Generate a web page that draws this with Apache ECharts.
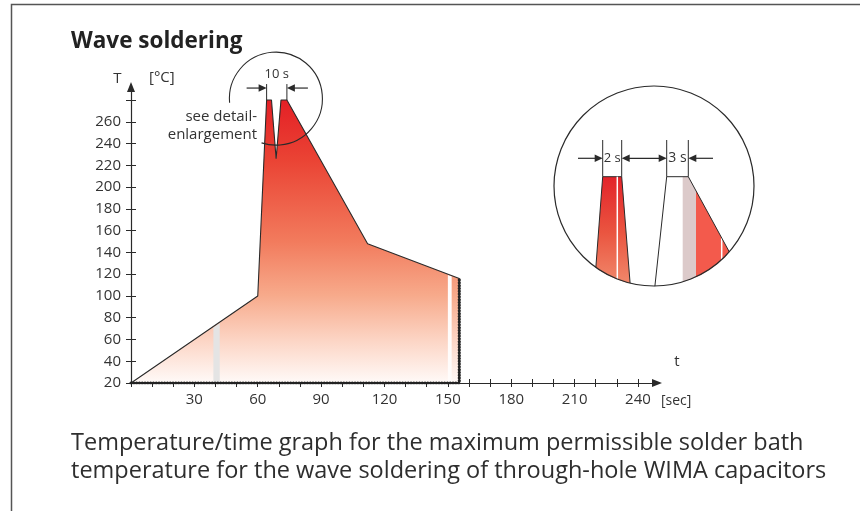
<!DOCTYPE html>
<html><head><meta charset="utf-8">
<script src="https://cdn.jsdelivr.net/npm/echarts@6/dist/echarts.min.js"></script>
<style>html,body{margin:0;padding:0;background:#fff}#c{width:860px;height:511px}</style>
</head><body><div id="c"></div>
<script>
// ---------------- data ----------------
const profileTime = [0, 60, 64.2, 66.5, 68.7, 71, 73.8, 112, 155.4, 155.4];
const profileTemp = [20, 100, 280, 280, 226, 280, 280, 148, 116, 20];
const bathTime = [0, 155.4, 155.4];
const bathTemp = [20, 20, 116];
const xTickValues = [0,10,20,30,40,50,60,70,80,90,100,110,120,130,140,150,160,170,180,190,200,210,220,230,240];
const xLabelValues = [30,60,90,120,150,180,210,240];
const yTickValues = [20,40,60,80,100,120,140,160,180,200,220,240,260,280];
const yLabelValues = [20,40,60,80,100,120,140,160,180,200,220,240,260];
const stripeLeft = [39, 150];
const stripeRight = [42, 151.8];
const stripeTopLeft = [71, 119.3];
const stripeTopRight = [75, 118];
const spanLabel = '10 s';
const peakTemp = 280;
const spanStart = profileTime[2];
const spanEnd = profileTime[6];
const detailCircleCenter = [68.6, 281.3];

// detail enlargement (units of the enlargement frame, 0..200)
const detailLeftPeak = [[48.7,90.7],[67.7,90.7],[77.5,215],[39.3,215]];
const detailLeftGlint = [[63.3,90.7],[63.3,215]];
const detailRightOutline = [[100.8,201],[112.7,90.7],[134.3,90.7],[183,180]];
const detailHalftone = [[128.7,90.7],[134.3,90.7],[142,104.8],[142,205],[128.7,205]];
const detailRightFill = [[142,104.8],[183,180],[183,205],[142,205]];
const detailRightGlint = [[167.7,151.9],[167.7,205]];
const detailDimX = [48.7, 67.7, 112.7, 134.3];
const detailDimLabels = ['2 s', '3 s'];
const detailFrame = [100, 100, 100]; // cx, cy, r

// ---------------- styles ----------------
const FONT = "'Open Sans', Lato, sans-serif";
const INK = '#2a2a2a';
const TXT = '#333';

const chart = echarts.init(document.getElementById('c'), null, {renderer: 'canvas'});

function arrowHead(tip, dir, len, half, color) {
  return {type: 'polygon', shape: {points: [[tip[0], tip[1]], [tip[0] - dir * len, tip[1] - half], [tip[0] - dir * len, tip[1] + half]]}, style: {fill: color}};
}
function vline(x, y0, y1, w) {
  return {type: 'line', shape: {x1: x, y1: y0, x2: x, y2: y1}, style: {stroke: INK, lineWidth: w || 1}};
}

const areaGradient = {type: 'linear', x: 0, y: 0, x2: 0, y2: 1, colorStops: [
  {offset: 0, color: '#e42026'},
  {offset: 0.21, color: '#ea4334'},
  {offset: 0.5, color: '#f27b5d'},
  {offset: 0.69, color: '#f7aa8b'},
  {offset: 0.85, color: '#fcd5c5'},
  {offset: 1, color: '#fffaf8'}
]};

const option = {
  animation: false,
  backgroundColor: '#fff',
  grid: [
    {left: 131, top: 87, width: 526, height: 296},
    {left: 554, top: 86, width: 200, height: 200}
  ],
  xAxis: [
    {type: 'value', gridIndex: 0, min: 0, max: 249, position: 'bottom',
     axisLine: {show: true, onZero: false, symbol: ['none', 'triangle'], symbolSize: [8, 10], lineStyle: {color: INK, width: 1.2}},
     axisTick: {show: true, customValues: xTickValues, length: 4, lineStyle: {color: INK, width: 1}},
     axisLabel: {customValues: xLabelValues, margin: 9, fontSize: 15, color: TXT, fontFamily: FONT},
     splitLine: {show: false}},
    {type: 'value', gridIndex: 0, min: 0, max: 249, position: 'bottom',
     axisLine: {show: false}, axisTick: {show: true, inside: true, customValues: xTickValues, length: 4, lineStyle: {color: INK, width: 1}},
     axisLabel: {show: false}, splitLine: {show: false}},
    {type: 'value', gridIndex: 1, min: 0, max: 200, show: false}
  ],
  yAxis: [
    {type: 'value', gridIndex: 0, min: 20, max: 292, position: 'left',
     axisLine: {show: true, onZero: false, symbol: ['none', 'triangle'], symbolSize: [8, 10], lineStyle: {color: INK, width: 1.2}},
     axisTick: {show: true, customValues: yTickValues, length: 5, lineStyle: {color: INK, width: 1}},
     axisLabel: {customValues: yLabelValues, margin: 10, fontSize: 15, color: TXT, fontFamily: FONT},
     splitLine: {show: false}},
    {type: 'value', gridIndex: 0, min: 20, max: 292, position: 'left',
     axisLine: {show: false}, axisTick: {show: true, inside: true, customValues: yTickValues, length: 5, lineStyle: {color: INK, width: 1}},
     axisLabel: {show: false}, splitLine: {show: false}},
    {type: 'value', gridIndex: 1, min: 0, max: 200, inverse: true, show: false}
  ],
  series: [
    {type: 'line', xAxisIndex: 0, yAxisIndex: 0, symbol: 'none', silent: true,
     data: profileTime.map((t, i) => [t, profileTemp[i]]),
     lineStyle: {width: 0}, areaStyle: {color: areaGradient, opacity: 1}, z: 2},
    {type: 'custom', xAxisIndex: 0, yAxisIndex: 0, silent: true, clip: false, z: 3,
     data: stripeLeft.map((x, i) => [x, stripeRight[i], stripeTopLeft[i], stripeTopRight[i]]),
     renderItem: function (params, api) {
       const i = params.dataIndex;
       const x0 = api.value(0), x1 = api.value(1);
       const pts = [api.coord([x0, 20]), api.coord([x0, api.value(2)]), api.coord([x1, api.value(3)]), api.coord([x1, 20])];
       return {type: 'polygon', shape: {points: pts}, style: {fill: i === 0 ? '#e4e4e4' : '#fffcfb'}};
     }},
    {type: 'line', xAxisIndex: 0, yAxisIndex: 0, symbol: 'none', silent: true, z: 4,
     data: profileTime.slice(0, 9).map((t, i) => [t, profileTemp[i]]),
     lineStyle: {color: INK, width: 1.1}},
    {type: 'line', xAxisIndex: 0, yAxisIndex: 0, symbol: 'none', silent: true, z: 5,
     data: bathTime.map((t, i) => [t, bathTemp[i]]),
     lineStyle: {color: '#333', width: 1.6}},
    {type: 'line', xAxisIndex: 0, yAxisIndex: 0, symbol: 'none', silent: true, z: 6,
     data: bathTime.map((t, i) => [t, bathTemp[i]]),
     lineStyle: {color: '#222', width: 3.2, type: [0.1, 2.7], cap: 'round'}},
    // 10 s dimension + detail circle
    {type: 'custom', xAxisIndex: 0, yAxisIndex: 0, silent: true, clip: false, z: 7,
     data: [detailCircleCenter],
     renderItem: function (params, api) {
       const pL = api.coord([spanStart, peakTemp]);
       const pR = api.coord([spanEnd, peakTemp]);
       const c = api.coord([api.value(0), api.value(1)]);
       const ay = pL[1] - 12;
       const deg = Math.PI / 180;
       return {type: 'group', children: [
         vline(pL[0], pL[1], pL[1] - 16), vline(pR[0], pR[1], pR[1] - 16),
         {type: 'line', shape: {x1: pL[0] - 20, y1: ay, x2: pL[0] - 6, y2: ay}, style: {stroke: INK, lineWidth: 1.2}},
         {type: 'line', shape: {x1: pR[0] + 6, y1: ay, x2: pR[0] + 21, y2: ay}, style: {stroke: INK, lineWidth: 1.2}},
         arrowHead([pL[0], ay], 1, 8, 3.8, INK), arrowHead([pR[0], ay], -1, 8, 3.8, INK),
         {type: 'text', x: (pL[0] + pR[0]) / 2, y: pL[1] - 26, style: {text: spanLabel, fontSize: 13, fontFamily: FONT, fill: TXT, align: 'center', verticalAlign: 'middle'}},
         {type: 'arc', shape: {cx: c[0], cy: c[1], r: 46.5, startAngle: 175 * deg, endAngle: 468 * deg, clockwise: true}, style: {stroke: INK, lineWidth: 1.1, fill: null}}
       ]};
     }},
    // detail enlargement
    {type: 'custom', xAxisIndex: 2, yAxisIndex: 2, silent: true, clip: false, z: 8,
     data: [detailFrame],
     renderItem: function (params, api) {
       const P = (arr) => arr.map(p => api.coord(p));
       const c = api.coord([api.value(0), api.value(1)]);
       const r = api.size([api.value(2), 0])[0];
       const top = api.coord([0, detailLeftPeak[0][1]])[1];
       const dimTop = api.coord([0, 54])[1];
       const ay = api.coord([0, 72.3])[1];
       const dx = detailDimX.map(x => api.coord([x, 0])[0]);
       const leftTail = api.coord([24, 0])[0], rightTail = api.coord([159, 0])[0];
       const kids = [
         {type: 'polygon', shape: {points: P(detailLeftPeak)}, style: {fill: {type: 'linear', x: 0, y: 0, x2: 0, y2: 1, colorStops: [{offset: 0, color: '#e3232a'}, {offset: 0.45, color: '#ea5540'}, {offset: 1, color: '#f39a7a'}]}, stroke: INK, lineWidth: 1}},
         {type: 'polyline', shape: {points: P(detailLeftGlint)}, style: {stroke: '#fff', lineWidth: 1.5}},
         {type: 'polygon', shape: {points: P(detailHalftone)}, style: {fill: '#dccaca'}},
         {type: 'polygon', shape: {points: P(detailRightFill)}, style: {fill: '#f35a4c'}},
         {type: 'polyline', shape: {points: P(detailRightGlint)}, style: {stroke: '#fff', lineWidth: 1.5}},
         {type: 'polyline', shape: {points: P(detailRightOutline)}, style: {stroke: INK, lineWidth: 1, fill: null}},
         {type: 'ring', shape: {cx: c[0], cy: c[1], r0: r + 0.3, r: r + 60}, style: {fill: '#fff'}},
         {type: 'circle', shape: {cx: c[0], cy: c[1], r: r}, style: {stroke: INK, lineWidth: 1.2, fill: null}}
       ];
       dx.forEach(x => kids.push(vline(x, dimTop, top)));
       kids.push({type: 'line', shape: {x1: leftTail, y1: ay, x2: dx[0] - 6, y2: ay}, style: {stroke: INK, lineWidth: 1.2}});
       kids.push(arrowHead([dx[0], ay], 1, 8, 3.8, INK));
       kids.push({type: 'line', shape: {x1: dx[1] + 6, y1: ay, x2: dx[2] - 6, y2: ay}, style: {stroke: INK, lineWidth: 1.2}});
       kids.push(arrowHead([dx[1], ay], -1, 8, 3.8, INK));
       kids.push(arrowHead([dx[2], ay], 1, 8, 3.8, INK));
       kids.push({type: 'line', shape: {x1: dx[3] + 6, y1: ay, x2: rightTail, y2: ay}, style: {stroke: INK, lineWidth: 1.2}});
       kids.push(arrowHead([dx[3], ay], -1, 8, 3.8, INK));
       kids.push({type: 'text', x: (dx[0] + dx[1]) / 2, y: ay, style: {text: detailDimLabels[0], fontSize: 13, fontFamily: FONT, fill: TXT, align: 'center', verticalAlign: 'middle'}});
       kids.push({type: 'text', x: (dx[2] + dx[3]) / 2, y: ay, style: {text: detailDimLabels[1], fontSize: 14, fontFamily: FONT, fill: TXT, align: 'center', verticalAlign: 'middle'}});
       return {type: 'group', children: kids};
     }}
  ],
  graphic: [
    {type: 'polyline', shape: {points: [[11.5, 511], [11.5, 4.5], [860, 4.5]]}, style: {stroke: '#555', lineWidth: 1.5, fill: null}, z: 10},
    {type: 'text', x: 71, y: 42, style: {text: 'Wave soldering', fontSize: 22.5, fontWeight: 'bold', fontFamily: FONT, fill: '#222', align: 'left', verticalAlign: 'middle'}},
    {type: 'text', x: 117.5, y: 79, style: {text: 'T', fontSize: 15, fontFamily: FONT, fill: TXT, align: 'center', verticalAlign: 'middle'}},
    {type: 'text', x: 149, y: 78, style: {text: '[°C]', fontSize: 15, fontFamily: FONT, fill: TXT, align: 'left', verticalAlign: 'middle'}},
    {type: 'text', x: 677, y: 362, style: {text: 't', fontSize: 15, fontFamily: FONT, fill: TXT, align: 'center', verticalAlign: 'middle'}},
    {type: 'text', x: 661, y: 401, style: {text: '[sec]', fontSize: 14, fontFamily: FONT, fill: TXT, align: 'left', verticalAlign: 'middle'}},
    {type: 'text', x: 257, y: 116.5, style: {text: 'see detail-', fontSize: 15, fontFamily: FONT, fill: TXT, align: 'right', verticalAlign: 'middle'}},
    {type: 'text', x: 257, y: 134.5, style: {text: 'enlargement', fontSize: 15, fontFamily: FONT, fill: TXT, align: 'right', verticalAlign: 'middle'}},
    {type: 'text', x: 71, y: 443, style: {text: 'Temperature/time graph for the maximum permissible solder bath', fontSize: 23.5, fontFamily: FONT, fill: '#2e2e2e', align: 'left', verticalAlign: 'middle'}},
    {type: 'text', x: 71, y: 471, style: {text: 'temperature for the wave soldering of through-hole WIMA capacitors', fontSize: 23.5, fontFamily: FONT, fill: '#2e2e2e', align: 'left', verticalAlign: 'middle'}}
  ]
};
chart.setOption(option);
</script>
</body></html>
